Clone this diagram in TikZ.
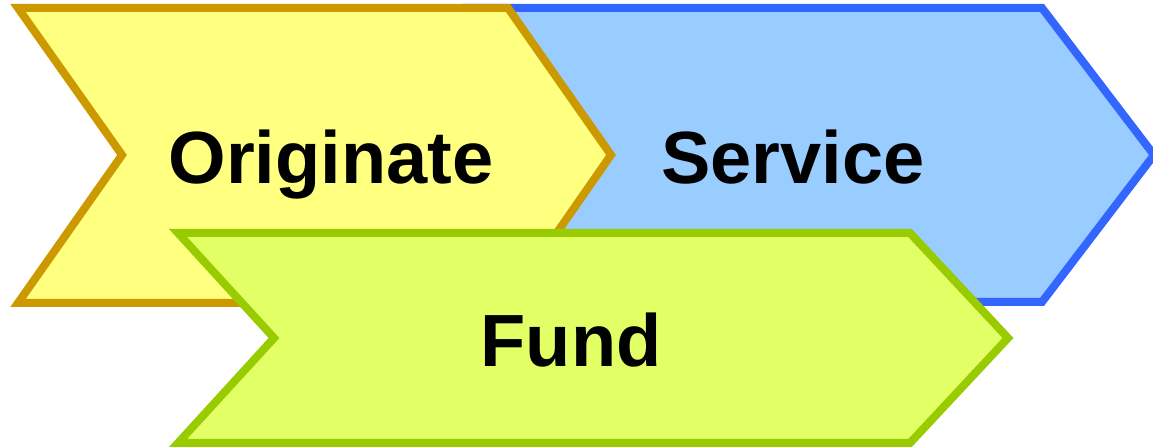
\documentclass[tikz,border=0pt]{standalone}
\usepackage{fontspec}
\setmainfont{Liberation Sans}
\usepackage{tikz}

\definecolor{origfill}{RGB}{255,255,128}
\definecolor{origline}{RGB}{204,153,0}
\definecolor{servfill}{RGB}{153,204,255}
\definecolor{servline}{RGB}{51,102,255}
\definecolor{fundfill}{RGB}{227,255,102}
\definecolor{fundline}{RGB}{153,204,0}

\tikzset{
  chevron/.style={line width=6pt, line join=miter},
  steplabel/.style={anchor=base, inner sep=0pt, font=\fontsize{55.5}{60}\selectfont\bfseries}
}

\begin{document}
\begin{tikzpicture}[x=0.75pt, y=-0.75pt]
                \useasboundingbox (0,0) rectangle (1153,448);

                % Service
                \draw[chevron, draw=servline, fill=servfill] (470,8)--(1042,8)--(1154,155)--(1042,302)--(470,302)--(575,155)--cycle;

                % Originate
                \draw[chevron, draw=origline, fill=origfill] (18,8)--(508,8)--(611,155)--(508,303)--(18,303)--(122,155)--cycle;

                % Fund
                \draw[chevron, draw=fundline, fill=fundfill] (178,233)--(910,233)--(1008,338)--(910,443)--(178,443)--(274,338)--cycle;

                % labels
                \node[steplabel] (orig) at (331,184) {Originate};
                \node[steplabel] (serv) at (793,184) {Service};
                \node[steplabel] (fund) at (571,367) {Fund};
\end{tikzpicture}
\end{document}
